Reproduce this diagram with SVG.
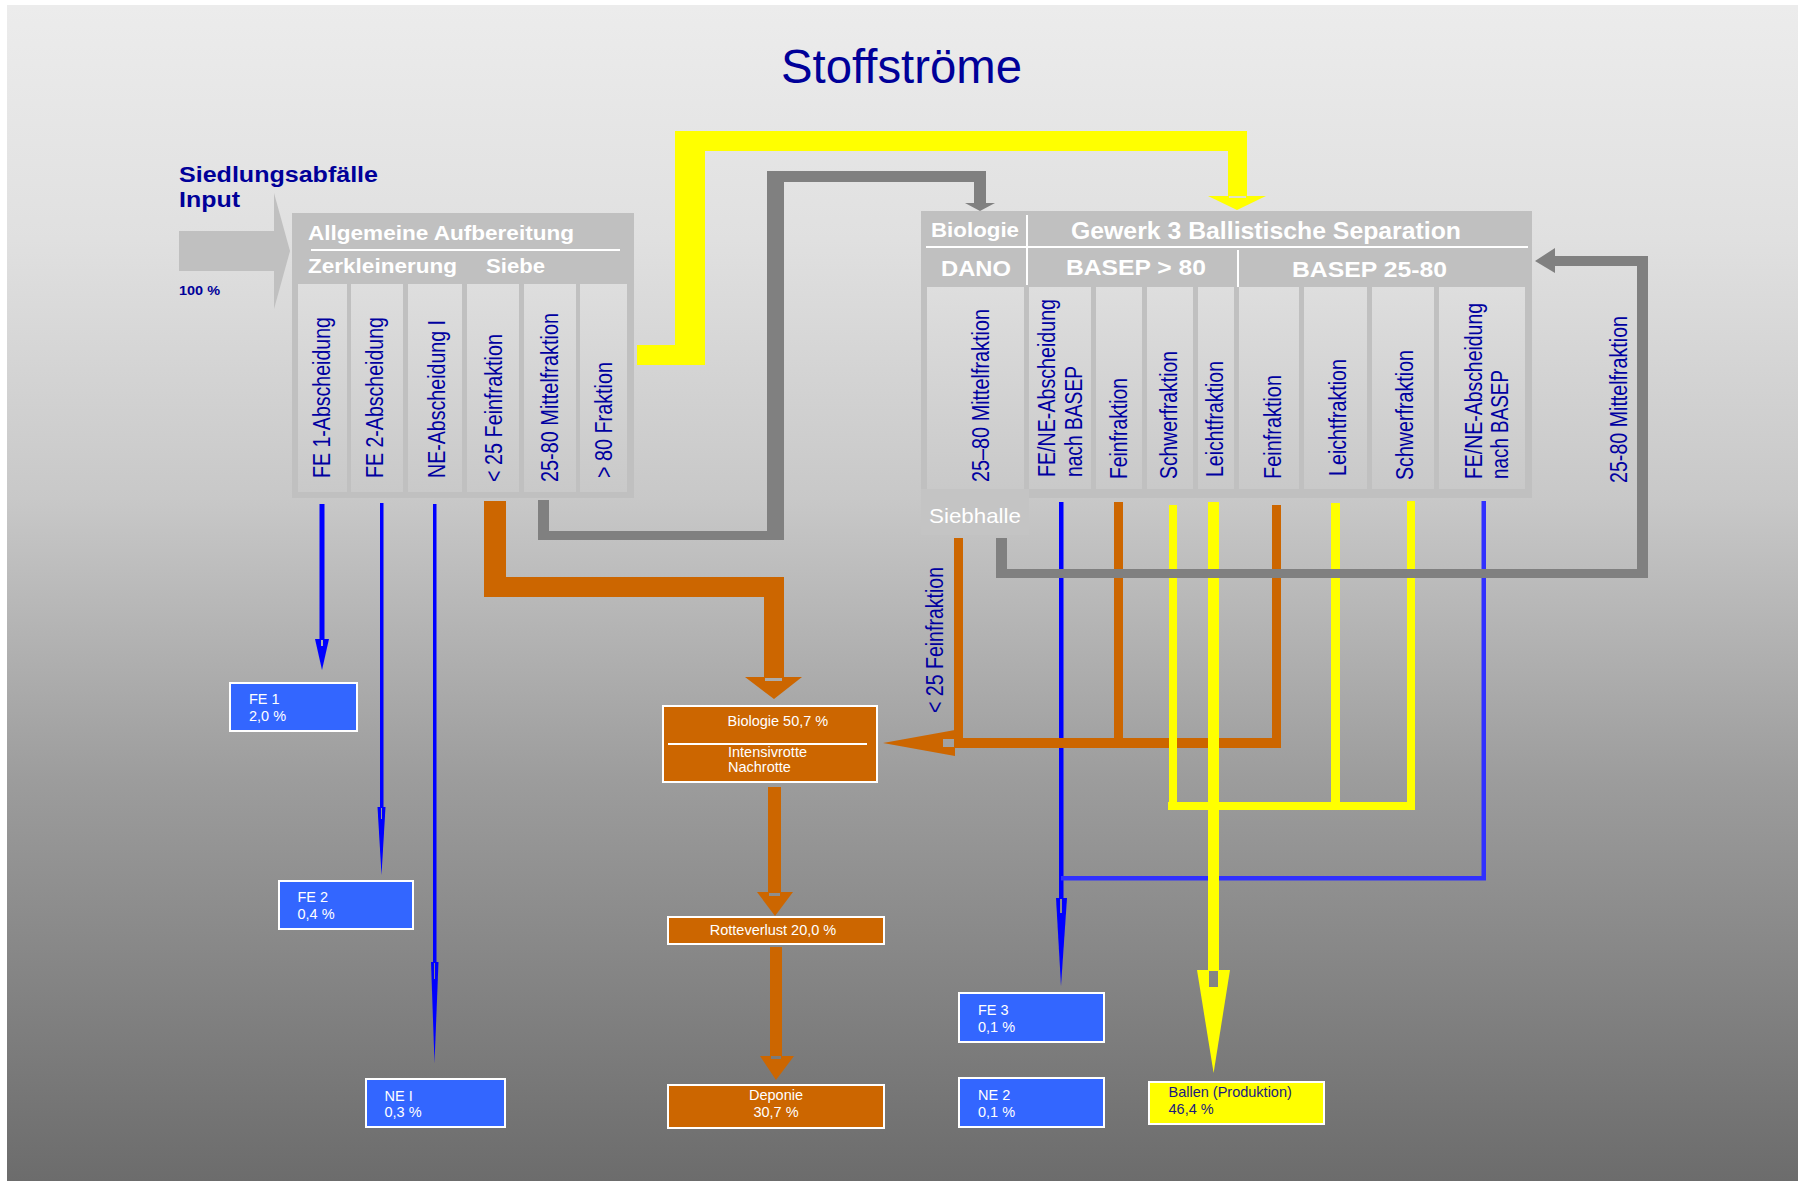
<svg xmlns="http://www.w3.org/2000/svg" width="1798" height="1181" viewBox="0 0 1798 1181">
<defs>
<linearGradient id="bg" gradientUnits="userSpaceOnUse" x1="0" y1="5" x2="0" y2="1181">
<stop offset="0" stop-color="#ececec"/>
<stop offset="0.2" stop-color="#e0e0e0"/>
<stop offset="0.42" stop-color="#c8c8c8"/>
<stop offset="0.66" stop-color="#9c9c9c"/>
<stop offset="1" stop-color="#6c6c6c"/>
</linearGradient>
<linearGradient id="col" x1="0" y1="0" x2="0" y2="1">
<stop offset="0" stop-color="#dedede"/>
<stop offset="1" stop-color="#c9c9c9"/>
</linearGradient>
<style>
text{font-family:"Liberation Sans",Arial,Helvetica,sans-serif}
.box{fill:#c0c0c0}
.col{fill:url(#col)}
.hdr{fill:#ffffff;font-weight:bold}
.vt{fill:#0000a0;font-size:23px}
.sep{stroke:#ffffff;stroke-width:2}
.bl{fill:#3366ff;stroke:#ffffff;stroke-width:2}
.or{fill:#cc6600;stroke:#ffffff;stroke-width:2}
.ye{fill:#ffff00;stroke:#ffffff;stroke-width:2}
.wt{fill:#ffffff;font-size:14.5px}
.nv{fill:#1a1a80;font-size:14.5px}
.gray{fill:#808080}
.orange{fill:#cc6600}
.yellow{fill:#ffff00}
.blue{fill:#0000ff}
.blue2{fill:#3030ff}
.hole{fill:url(#bg)}
</style>
</defs>
<rect x="0" y="0" width="1798" height="1181" fill="#ffffff"/>
<rect x="7" y="5" width="1791" height="1176" fill="url(#bg)"/>

<g id="title">
<text x="781" y="83" font-size="48" fill="#000099" textLength="241" lengthAdjust="spacingAndGlyphs">Stoffströme</text>
</g>

<g id="input">
<text x="179" y="182" font-size="22" font-weight="bold" fill="#000099" textLength="199" lengthAdjust="spacingAndGlyphs">Siedlungsabfälle</text>
<text x="179" y="207" font-size="22" font-weight="bold" fill="#000099" textLength="61" lengthAdjust="spacingAndGlyphs">Input</text>
<rect x="179" y="231" width="95" height="40" fill="#c0c0c0"/>
<polygon points="274,193 290,251 274,309" fill="#c0c0c0"/>
<text x="179" y="295" font-size="13" font-weight="bold" fill="#000099" textLength="41" lengthAdjust="spacingAndGlyphs">100 %</text>
</g>

<g id="connectors">
<!-- blue left -->
<rect class="blue" x="319.5" y="504" width="5" height="136"/>
<polygon class="blue" points="315,639 329,639 322,670"/>
<rect class="hole" x="321" y="640" width="2" height="6"/>
<rect class="blue" x="380" y="503" width="3.5" height="305"/>
<polygon class="blue" points="377.5,807 385.5,807 381.5,875"/>
<rect class="hole" x="381" y="808" width="1" height="11"/>
<rect class="blue" x="433" y="504" width="3.5" height="459"/>
<polygon class="blue" points="431,962 438.5,962 434.5,1063"/>
<rect class="hole" x="434" y="963" width="1" height="16"/>
<!-- blue right -->
<rect class="blue" x="1059" y="502" width="4.5" height="397"/>
<polygon class="blue" points="1056,898 1067,898 1061,986"/>
<rect class="hole" x="1060" y="899" width="2" height="14"/>
<rect class="blue2" x="1061" y="876" width="425" height="4.5"/>
<rect class="blue2" x="1481.5" y="501" width="4.5" height="379"/>
<!-- orange left -->
<polygon class="orange" points="484,501 506,501 506,577 784,577 784,677 802,677 774,699 745,677 764,677 764,597 484,597"/>
<rect class="hole" x="765" y="678" width="17" height="3"/>
<!-- orange middle column -->
<rect class="orange" x="768" y="787" width="13" height="106"/>
<polygon class="orange" points="757,892 793,892 775,916"/>
<rect class="hole" x="769" y="893" width="11" height="3"/>
<rect class="orange" x="770" y="947" width="12" height="110"/>
<polygon class="orange" points="760,1056 794,1056 776,1080"/>
<rect class="hole" x="771" y="1056" width="10" height="3"/>
<!-- orange right -->
<rect class="orange" x="954" y="538" width="9" height="210"/>
<rect class="orange" x="1114" y="502" width="9" height="246"/>
<rect class="orange" x="1272" y="505" width="9" height="243"/>
<rect class="orange" x="943" y="738" width="338" height="10"/>
<polygon class="orange" points="955,730 883,743 955,756"/>
<rect class="hole" x="943" y="739" width="11" height="8"/>
<!-- yellow right -->
<rect class="yellow" x="1169" y="505" width="8" height="305"/>
<rect class="yellow" x="1331" y="503" width="9" height="307"/>
<rect class="yellow" x="1407" y="501" width="8" height="309"/>
<rect class="yellow" x="1168" y="802" width="247" height="8"/>
<rect class="yellow" x="1208" y="502" width="11" height="469"/>
<polygon class="yellow" points="1197,970 1230,970 1213.6,1073"/>
<rect class="hole" x="1209" y="971" width="9" height="16"/>
<!-- yellow top -->
<polygon class="yellow" points="637,345 675,345 675,131 1247,131 1247,196 1266,196 1237,210 1208,196 1228,196 1228,151 705,151 705,365 637,365"/>
<rect x="1229" y="196" width="17" height="2" fill="#e0e0c8"/>
<!-- gray top -->
<polygon class="gray" points="538,500 538,540 784,540 784,182 974,182 974,203 965,203 980,211 995,203 986,203 986,171 767,171 767,531 549,531 549,500"/>
<!-- gray right -->
<polygon class="gray" points="996,538 1007,538 1007,569 1637,569 1637,266 1555,266 1555,273 1535,261 1555,248 1555,256 1648,256 1648,578 996,578"/>
</g>

<g id="aufbereitung">
<rect class="box" x="292" y="213" width="342" height="285"/>
<text class="hdr" x="308" y="240" font-size="21" textLength="266" lengthAdjust="spacingAndGlyphs">Allgemeine Aufbereitung</text>
<line class="sep" x1="311" y1="250" x2="620" y2="250"/>
<text class="hdr" x="308" y="273" font-size="21" textLength="149" lengthAdjust="spacingAndGlyphs">Zerkleinerung</text>
<text class="hdr" x="486" y="273" font-size="21" textLength="59" lengthAdjust="spacingAndGlyphs">Siebe</text>
<rect class="col" x="298" y="284" width="49" height="208"/>
<rect class="col" x="351" y="284" width="52" height="208"/>
<rect class="col" x="408" y="284" width="54" height="208"/>
<rect class="col" x="467" y="284" width="52" height="208"/>
<rect class="col" x="524" y="284" width="52" height="208"/>
<rect class="col" x="580" y="284" width="47" height="208"/>
<text class="vt" transform="translate(330,478) rotate(-90)" textLength="161" lengthAdjust="spacingAndGlyphs">FE 1-Abscheidung</text>
<text class="vt" transform="translate(383,478) rotate(-90)" textLength="161" lengthAdjust="spacingAndGlyphs">FE 2-Abscheidung</text>
<text class="vt" transform="translate(445,478) rotate(-90)" textLength="158" lengthAdjust="spacingAndGlyphs">NE-Abscheidung I</text>
<text class="vt" transform="translate(502,482) rotate(-90)" textLength="148" lengthAdjust="spacingAndGlyphs">&lt; 25 Feinfraktion</text>
<text class="vt" transform="translate(558,482) rotate(-90)" textLength="169" lengthAdjust="spacingAndGlyphs">25-80 Mittelfraktion</text>
<text class="vt" transform="translate(612,478) rotate(-90)" textLength="116" lengthAdjust="spacingAndGlyphs">&gt; 80 Fraktion</text>
</g>

<g id="separation">
<rect class="box" x="921" y="211" width="611" height="287"/>
<rect x="921" y="489" width="108" height="46" fill="#c4c4c4"/>
<text class="hdr" x="931" y="237" font-size="20" textLength="88" lengthAdjust="spacingAndGlyphs">Biologie</text>
<text class="hdr" x="1071" y="239" font-size="23" textLength="390" lengthAdjust="spacingAndGlyphs">Gewerk 3 Ballistische Separation</text>
<line class="sep" x1="1027" y1="215" x2="1027" y2="285"/>
<line class="sep" x1="926" y1="247" x2="1528" y2="247"/>
<line class="sep" x1="1238" y1="250" x2="1238" y2="287"/>
<text class="hdr" x="941" y="276" font-size="22" textLength="70" lengthAdjust="spacingAndGlyphs">DANO</text>
<text class="hdr" x="1066" y="275" font-size="22" textLength="140" lengthAdjust="spacingAndGlyphs">BASEP &gt; 80</text>
<text class="hdr" x="1292" y="277" font-size="22" textLength="155" lengthAdjust="spacingAndGlyphs">BASEP 25-80</text>
<rect class="col" x="927" y="287" width="97" height="202"/>
<rect class="col" x="1029" y="287" width="62" height="202"/>
<rect class="col" x="1096" y="287" width="46" height="202"/>
<rect class="col" x="1147" y="287" width="46" height="202"/>
<rect class="col" x="1198" y="287" width="36" height="202"/>
<rect class="col" x="1239" y="287" width="60" height="202"/>
<rect class="col" x="1304" y="287" width="63" height="202"/>
<rect class="col" x="1372" y="287" width="62" height="202"/>
<rect class="col" x="1439" y="287" width="86" height="202"/>
<text class="vt" transform="translate(989,482) rotate(-90)" textLength="173" lengthAdjust="spacingAndGlyphs">25–80 Mittelfraktion</text>
<text class="vt" transform="translate(1055,477) rotate(-90)" textLength="178" lengthAdjust="spacingAndGlyphs">FE/NE-Abscheidung</text>
<text class="vt" transform="translate(1082,477) rotate(-90)" textLength="111" lengthAdjust="spacingAndGlyphs">nach BASEP</text>
<text class="vt" transform="translate(1127,479) rotate(-90)" textLength="101" lengthAdjust="spacingAndGlyphs">Feinfraktion</text>
<text class="vt" transform="translate(1177,479) rotate(-90)" textLength="128" lengthAdjust="spacingAndGlyphs">Schwerfraktion</text>
<text class="vt" transform="translate(1223,477) rotate(-90)" textLength="116" lengthAdjust="spacingAndGlyphs">Leichtfraktion</text>
<text class="vt" transform="translate(1281,479) rotate(-90)" textLength="104" lengthAdjust="spacingAndGlyphs">Feinfraktion</text>
<text class="vt" transform="translate(1346,476) rotate(-90)" textLength="117" lengthAdjust="spacingAndGlyphs">Leichtfraktion</text>
<text class="vt" transform="translate(1413,480) rotate(-90)" textLength="130" lengthAdjust="spacingAndGlyphs">Schwerfraktion</text>
<text class="vt" transform="translate(1482,479) rotate(-90)" textLength="176" lengthAdjust="spacingAndGlyphs">FE/NE-Abscheidung</text>
<text class="vt" transform="translate(1508,479) rotate(-90)" textLength="109" lengthAdjust="spacingAndGlyphs">nach BASEP</text>
<text x="929" y="523" font-size="21" fill="#ffffff" textLength="92" lengthAdjust="spacingAndGlyphs">Siebhalle</text>
</g>

<g id="labels">
<text class="vt" transform="translate(1627,483) rotate(-90)" textLength="167" lengthAdjust="spacingAndGlyphs">25-80 Mittelfraktion</text>
<text class="vt" transform="translate(943,713) rotate(-90)" textLength="146" lengthAdjust="spacingAndGlyphs">&lt; 25 Feinfraktion</text>
</g>

<g id="fe1">
<rect class="bl" x="230" y="683" width="127" height="48"/>
<text class="wt" x="249" y="704">FE 1</text>
<text class="wt" x="249" y="721">2,0 %</text>
</g>
<g id="fe2">
<rect class="bl" x="279" y="881" width="134" height="48"/>
<text class="wt" x="297.5" y="902">FE 2</text>
<text class="wt" x="297.5" y="919">0,4 %</text>
</g>
<g id="ne1">
<rect class="bl" x="366" y="1079" width="139" height="48"/>
<text class="wt" x="384.5" y="1101">NE I</text>
<text class="wt" x="384.5" y="1117">0,3 %</text>
</g>
<g id="biologie">
<rect class="or" x="663" y="706" width="214" height="76"/>
<text class="wt" x="727.5" y="726">Biologie 50,7 %</text>
<line class="sep" x1="668" y1="744" x2="867" y2="744"/>
<text class="wt" x="728" y="757">Intensivrotte</text>
<text class="wt" x="728" y="772">Nachrotte</text>
</g>
<g id="rotteverlust">
<rect class="or" x="668" y="917" width="216" height="27"/>
<text class="wt" x="773" y="935" text-anchor="middle">Rotteverlust 20,0 %</text>
</g>
<g id="deponie">
<rect class="or" x="668" y="1085" width="216" height="43"/>
<text class="wt" x="776" y="1100" text-anchor="middle">Deponie</text>
<text class="wt" x="776" y="1117" text-anchor="middle">30,7 %</text>
</g>
<g id="fe3">
<rect class="bl" x="959" y="993" width="145" height="49"/>
<text class="wt" x="978" y="1015">FE 3</text>
<text class="wt" x="978" y="1032">0,1 %</text>
</g>
<g id="ne2">
<rect class="bl" x="959" y="1078" width="145" height="49"/>
<text class="wt" x="978" y="1100">NE 2</text>
<text class="wt" x="978" y="1117">0,1 %</text>
</g>
<g id="ballen">
<rect class="ye" x="1149" y="1082" width="175" height="42"/>
<text class="nv" x="1168.5" y="1097">Ballen (Produktion)</text>
<text class="nv" x="1168.5" y="1114">46,4 %</text>
</g>
</svg>
